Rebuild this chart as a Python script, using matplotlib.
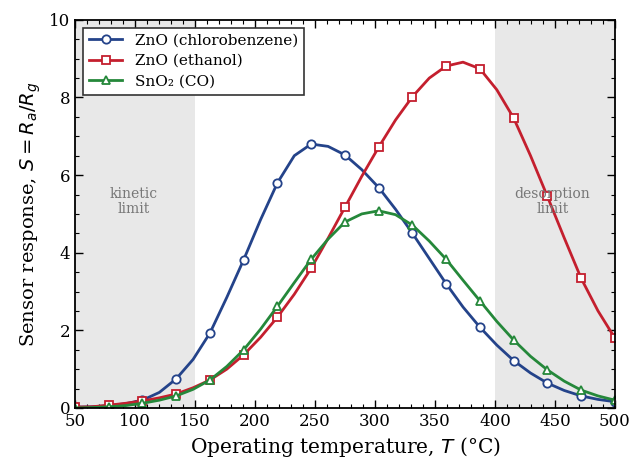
import numpy as np
import matplotlib
matplotlib.use("Agg")
import matplotlib.pyplot as plt

plt.rcParams['font.family'] = 'DejaVu Serif'
plt.rcParams['mathtext.fontset'] = 'dejavusans'

# temperatures (deg C), markers on every other point
temp = np.linspace(50, 500, 33)

zno_chloro = [0.02, 0.03, 0.06, 0.11, 0.20, 0.40, 0.75, 1.25, 1.93, 2.85, 3.82,
              4.85, 5.80, 6.50, 6.80, 6.74, 6.52, 6.14, 5.68, 5.12, 4.50, 3.85,
              3.20, 2.60, 2.08, 1.62, 1.22, 0.90, 0.64, 0.45, 0.31, 0.22, 0.16]
zno_ethanol = [0.02, 0.03, 0.07, 0.12, 0.18, 0.26, 0.36, 0.52, 0.72, 1.00, 1.37,
               1.82, 2.34, 2.93, 3.60, 4.37, 5.17, 5.97, 6.72, 7.42, 8.02, 8.50,
               8.81, 8.91, 8.74, 8.20, 7.47, 6.50, 5.45, 4.38, 3.34, 2.50, 1.80]
sno2_co = [0.00, 0.01, 0.03, 0.06, 0.12, 0.20, 0.31, 0.48, 0.72, 1.07, 1.50,
           2.03, 2.62, 3.23, 3.83, 4.35, 4.79, 5.00, 5.08, 4.98, 4.71, 4.30,
           3.83, 3.29, 2.76, 2.23, 1.75, 1.33, 0.98, 0.69, 0.46, 0.31, 0.20]

labels = ['ZnO (chlorobenzene)', 'ZnO (ethanol)', 'SnO₂ (CO)']
colors = ['#24438a', '#c41f2e', '#25883a']
markers = ['o', 's', '^']

fig = plt.figure(figsize=(6.3, 4.62), dpi=100)
ax = fig.add_axes([0.119, 0.117, 0.857, 0.84])

ax.axvspan(50, 150, color='#e8e8e8', zorder=0, lw=0)
ax.axvspan(400, 500, color='#e8e8e8', zorder=0, lw=0)
ax.text(99, 5.33, 'kinetic\nlimit', ha='center', va='center', color='#777777',
        fontsize=10, linespacing=1.1)
ax.text(448, 5.33, 'desorption\nlimit', ha='center', va='center', color='#777777',
        fontsize=10, linespacing=1.1)

for ys, lab, c, m in zip([zno_chloro, zno_ethanol, sno2_co], labels, colors, markers):
    ax.plot(temp, ys, color=c, lw=2, marker=m, markevery=2, ms=6,
            mfc='white', mec=c, mew=1.3, label=lab)

ax.set_xlim(50, 500)
ax.set_ylim(0, 10)
ax.set_xticks(np.arange(50, 501, 50))
ax.set_xticks(np.arange(50, 501, 10), minor=True)
ax.set_yticks(np.arange(0, 11, 2))
ax.set_yticks(np.arange(0, 10.1, 0.5), minor=True)
ax.tick_params(which='both', direction='in', top=True, right=True, labelsize=12)
ax.tick_params(which='major', length=6, width=1)
ax.tick_params(which='minor', length=3, width=0.8)
for s in ax.spines.values():
    s.set_linewidth(1.3)

ax.set_xlabel('Operating temperature, $T$ (°C)', fontsize=14.5)
ax.set_ylabel('Sensor response, $S = R_a/R_g$', fontsize=14)

leg = ax.legend(loc='upper left', fontsize=11, fancybox=False, framealpha=1,
                edgecolor='#333333', handlelength=2.2, borderpad=0.4, labelspacing=0.42)
leg.get_frame().set_linewidth(1.2)

fig.savefig('out.png', dpi=100)
